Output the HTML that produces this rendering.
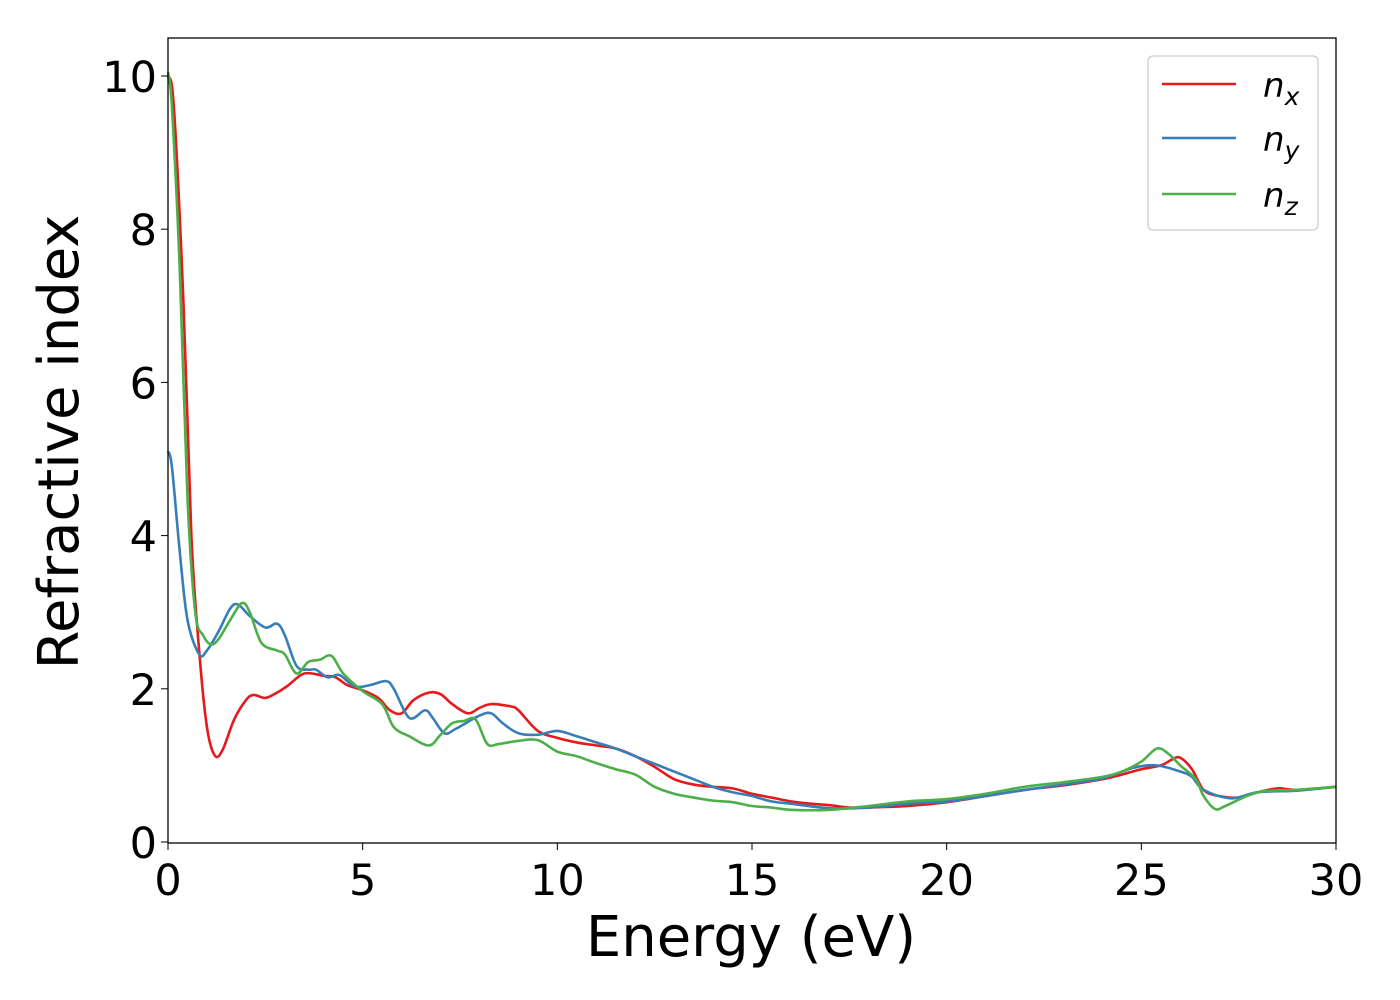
<!DOCTYPE html>
<html><head><meta charset="utf-8"><style>
body{margin:0;background:#fff;}
svg{display:block;font-family:"DejaVu Sans","Liberation Sans",sans-serif;}
</style></head><body>
<svg id="chart" width="1400" height="1000" viewBox="0 0 1400 1000" xmlns="http://www.w3.org/2000/svg">
<rect width="1400" height="1000" fill="#fff"/>
<g id="series"></g>
<rect x="168" y="38" width="1168" height="805" fill="none" stroke="#000" stroke-width="1.3"/>
<g id="xticks"></g><g id="yticks"></g>
<text x="751" y="956" font-size="56" text-anchor="middle">Energy (eV)</text>
<text transform="translate(78,442) rotate(-90)" font-size="56" text-anchor="middle">Refractive index</text>
<g>
<rect x="1148" y="56" width="170" height="174" rx="5" fill="#fff" stroke="#ccc" stroke-width="1.3"/>
<line x1="1162" y1="84" x2="1236" y2="84" stroke="#e41a1c" stroke-width="2.6"/>
<text x="1263" y="97" font-size="34" font-style="italic">n<tspan font-size="25" dy="8">x</tspan></text>
<line x1="1162" y1="138" x2="1236" y2="138" stroke="#377eb8" stroke-width="2.6"/>
<text x="1263" y="151" font-size="34" font-style="italic">n<tspan font-size="25" dy="8">y</tspan></text>
<line x1="1162" y1="194" x2="1236" y2="194" stroke="#4daf4a" stroke-width="2.6"/>
<text x="1263" y="207" font-size="34" font-style="italic">n<tspan font-size="25" dy="8">z</tspan></text>
</g>
</svg>
<script>
const xTicks=[0,5,10,15,20,25,30];
const yTicks=[0,2,4,6,8,10];
const nxE=[0,0.15,0.4,0.6,0.8,1.0,1.2,1.4,1.7,2.0,2.2,2.5,2.8,3.1,3.5,4.0,4.3,4.6,5.0,5.4,5.7,6.0,6.3,6.7,7.0,7.3,7.7,8.0,8.3,8.8,9.0,9.5,10,10.5,11,11.5,12,12.5,13,13.5,14,14.5,15,15.5,16,16.5,17,17.5,18,19,20,21,22,23,24,24.5,25,25.5,25.8,26,26.3,26.6,27,27.5,28,28.5,29,30];
const nxV=[10,9.6,7,4,2.5,1.5,1.13,1.2,1.6,1.85,1.92,1.88,1.95,2.05,2.2,2.17,2.15,2.05,1.98,1.88,1.72,1.68,1.85,1.95,1.93,1.8,1.68,1.75,1.8,1.77,1.72,1.45,1.36,1.3,1.26,1.22,1.12,0.98,0.82,0.75,0.72,0.7,0.63,0.58,0.53,0.5,0.48,0.45,0.45,0.47,0.52,0.6,0.68,0.74,0.82,0.88,0.95,1.0,1.08,1.1,0.95,0.68,0.6,0.58,0.65,0.7,0.68,0.72];
const nyE=[0,0.1,0.3,0.5,0.8,1.0,1.3,1.6,1.8,2.1,2.5,2.8,3.0,3.3,3.6,3.8,4.1,4.4,4.8,5.2,5.6,5.8,6.2,6.6,6.8,7.1,7.4,8.0,8.3,8.6,9.0,9.5,10,10.5,11,11.5,12,12.5,13,13.5,14,14.5,15,15.5,16,17,18,19,20,21,22,23,24,24.8,25.4,26,26.3,26.6,27.3,28,29,30];
const nyV=[5.1,4.9,3.8,2.9,2.45,2.5,2.75,3.05,3.1,2.95,2.8,2.85,2.7,2.3,2.25,2.25,2.15,2.18,2.03,2.05,2.1,2.0,1.62,1.72,1.62,1.42,1.48,1.65,1.68,1.55,1.42,1.4,1.45,1.38,1.3,1.22,1.12,1.02,0.92,0.82,0.72,0.65,0.6,0.53,0.5,0.44,0.45,0.5,0.53,0.6,0.68,0.75,0.83,0.97,1.0,0.92,0.85,0.68,0.57,0.65,0.67,0.72];
const nzE=[0,0.1,0.3,0.5,0.7,0.9,1.1,1.3,1.6,1.9,2.1,2.4,2.8,3.0,3.3,3.6,3.9,4.2,4.5,5.0,5.5,5.8,6.2,6.7,7.0,7.3,7.6,7.9,8.2,8.5,9,9.5,10,10.5,11,11.5,12,12.5,13,13.5,14,14.5,15,15.5,16,17,18,19,20,21,22,23,24,24.5,25,25.4,25.7,26,26.4,26.6,26.9,27.2,28,29,30];
const nzV=[10.05,9.6,7.5,4.5,3.0,2.7,2.58,2.65,2.9,3.12,3.0,2.6,2.5,2.45,2.2,2.35,2.38,2.43,2.2,1.97,1.8,1.5,1.38,1.26,1.4,1.55,1.58,1.6,1.28,1.28,1.32,1.33,1.18,1.12,1.03,0.95,0.88,0.72,0.63,0.58,0.54,0.52,0.47,0.45,0.42,0.42,0.47,0.53,0.56,0.63,0.72,0.78,0.85,0.92,1.05,1.22,1.15,1.0,0.82,0.6,0.43,0.48,0.65,0.68,0.72];
const X=e=>168+e*(1168/30);
const Y=v=>842-v*76.6;
const NS="http://www.w3.org/2000/svg";
function smoothPath(E,V){
  const p=E.map((e,i)=>[X(e),Y(V[i])]);
  let d=`M${p[0][0]},${p[0][1]}`;
  for(let i=0;i<p.length-1;i++){
    const p0=p[i-1]||p[i],p1=p[i],p2=p[i+1],p3=p[i+2]||p2;
    const c1=[p1[0]+(p2[0]-p0[0])/6,p1[1]+(p2[1]-p0[1])/6];
    const c2=[p2[0]-(p3[0]-p1[0])/6,p2[1]-(p3[1]-p1[1])/6];
    d+=`C${c1[0]},${c1[1]} ${c2[0]},${c2[1]} ${p2[0]},${p2[1]}`;
  }
  return d;
}
const g=document.getElementById('series');
[[nxE,nxV,'#e41a1c','series-nx'],[nyE,nyV,'#377eb8','series-ny'],[nzE,nzV,'#4daf4a','series-nz']].forEach(s=>{
  const p=document.createElementNS(NS,'path');
  p.setAttribute('d',smoothPath(s[0],s[1]));
  p.setAttribute('fill','none');p.setAttribute('stroke',s[2]);p.setAttribute('stroke-width','2.6');
  
  
  g.appendChild(p);
});
const xg=document.getElementById('xticks');
xTicks.forEach(t=>{
  const l=document.createElementNS(NS,'line');
  l.setAttribute('x1',X(t));l.setAttribute('x2',X(t));l.setAttribute('y1',843);l.setAttribute('y2',850);l.setAttribute('stroke','#000');
  
  
  xg.appendChild(l);
  const tx=document.createElementNS(NS,'text');
  tx.setAttribute('x',X(t));tx.setAttribute('y',895);tx.setAttribute('font-size','43');tx.setAttribute('text-anchor','middle');
  tx.textContent=t;
  
  
  xg.appendChild(tx);
});
const yg=document.getElementById('yticks');
yTicks.forEach(t=>{
  const l=document.createElementNS(NS,'line');
  l.setAttribute('x1',161);l.setAttribute('x2',168);l.setAttribute('y1',Y(t));l.setAttribute('y2',Y(t));l.setAttribute('stroke','#000');
  
  
  yg.appendChild(l);
  const tx=document.createElementNS(NS,'text');
  tx.setAttribute('x',157);tx.setAttribute('y',Y(t)+16);tx.setAttribute('font-size','43');tx.setAttribute('text-anchor','end');
  tx.textContent=t;
  
  
  yg.appendChild(tx);
});
</script>
</body></html>
